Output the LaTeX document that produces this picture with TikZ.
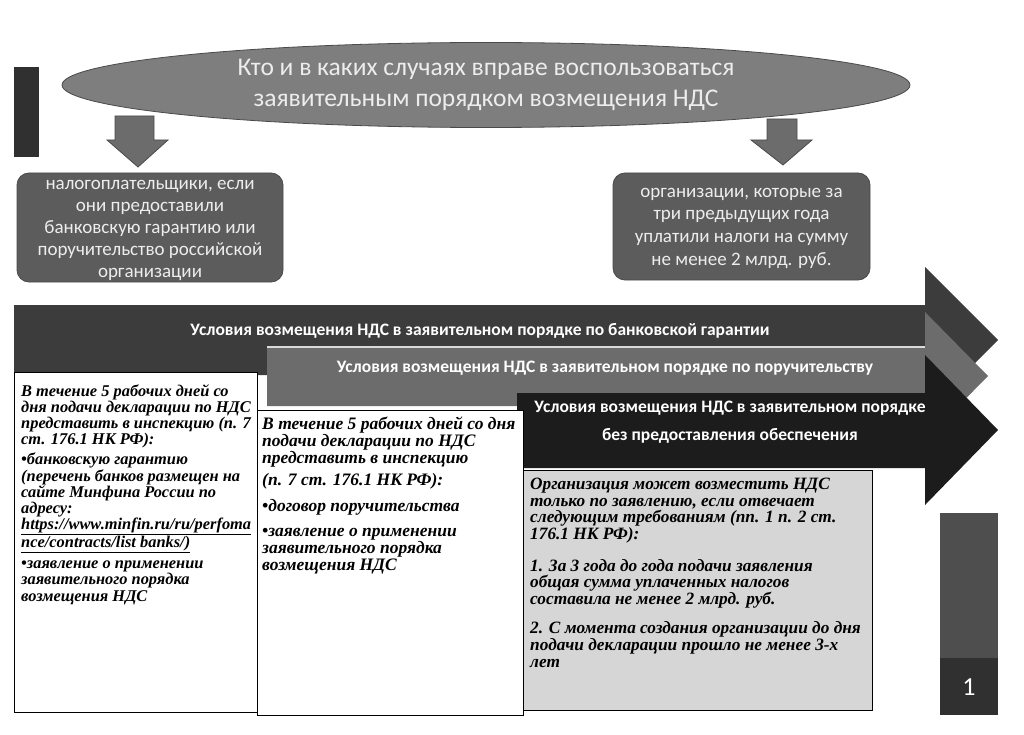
\documentclass[tikz,border=0pt]{standalone}
\usepackage{fontspec}
\setmainfont{Carlito}
\newfontfamily\tnr{Liberation Serif}
\usetikzlibrary{shapes.geometric}
\definecolor{ellfill}{HTML}{7E7E7E}
\definecolor{edgegray}{HTML}{4A4A4A}
\definecolor{boxfill}{HTML}{5C5C5C}
\definecolor{txtlight}{HTML}{EDEDED}
\definecolor{arrowone}{HTML}{3C3C3C}
\definecolor{arrowtwo}{HTML}{6C6C6C}
\definecolor{arrowthree}{HTML}{1C1C1C}
\definecolor{lightbox}{HTML}{D6D6D6}
\definecolor{numtop}{HTML}{4E4E4E}
\definecolor{numbot}{HTML}{303030}
\tikzset{
  rbox/.style={draw=edgegray, fill=boxfill, rounded corners=12pt, line width=0.8pt},
  rtext/.style={text=txtlight, align=center, inner sep=0pt, font=\fontsize{19}{22}\selectfont},
  downarr/.style={draw=edgegray, fill=arrowtwo, line width=0.8pt},
  whitebox/.style={draw=black, line width=0.8pt},
  bodytext/.style={anchor=north west, align=left, inner sep=0pt},
  bartext/.style={text=white, font=\bfseries\fontsize{17.5}{28}\selectfont, align=center}
}
\begin{document}
\begin{tikzpicture}[x=1pt,y=-1pt]
\useasboundingbox (0,0) rectangle (1024,735);
% left bar
\fill[numbot] (14,67) rectangle (39,157);
% title ellipse
\node[ellipse, draw=edgegray, fill=ellfill, line width=0.8pt, minimum width=848pt, minimum height=85pt, inner sep=0pt, text=txtlight, align=center, font=\fontsize{25.5}{31.5}\selectfont] (title) at (486,85) {Кто и в каких случаях вправе воспользоваться\\заявительным порядком возмещения НДС};
% down arrows
\draw[downarr] (115,116) -- (154,116) -- (154,140) -- (168,140) -- (138,167) -- (107,140) -- (115,140) -- cycle;
\draw[downarr] (767,119) -- (797,119) -- (797,140) -- (812,140) -- (783,165) -- (751,140) -- (767,140) -- cycle;
% rounded boxes
\node[rbox, minimum width=266pt, minimum height=109pt, inner sep=0pt] (left) at (150,227.5) {};
\node[rtext] (lefttext) at (150,230) {налогоплательщики, если\\они предоставили\\банковскую гарантию или\\поручительство российской\\организации};
\node[rbox, minimum width=257pt, minimum height=107pt, inner sep=0pt] (right) at (741.5,226.5) {};
\node[rtext, font=\fontsize{19}{22.7}\selectfont] (righttext) at (741.5,228) {организации, которые за\\три предыдущих года\\уплатили налоги на сумму\\не менее 2 млрд. руб.};
% big arrow 1
\fill[arrowone] (14,305) -- (925,305) -- (925,267) -- (998,340) -- (925,413) -- (925,375) -- (14,375) -- cycle;
\node[bartext] (a1) at (480,331) {Условия возмещения НДС в заявительном порядке по банковской гарантии};
% big arrow 2
\fill[arrowtwo] (267,346) -- (925,346) -- (925,312) -- (988,376) -- (925,440) -- (925,406) -- (267,406) -- cycle;
\draw[white!75!arrowtwo, line width=1.5pt] (267,347) -- (925,347);
\node[bartext] (a2) at (605,368) {Условия возмещения НДС в заявительном порядке по поручительству};
% big arrow 3
\fill[arrowthree] (517,393) -- (925,393) -- (925,355) -- (998,430) -- (925,505) -- (925,468) -- (517,468) -- cycle;
\node[bartext] (a3) at (730,422) {Условия возмещения НДС в заявительном порядке\\без предоставления обеспечения};
% box 1
\draw[whitebox, fill=white] (14,372) rectangle (257,712);
\node[bodytext, font=\tnr\bfseries\itshape\fontsize{16.4}{16.2}\selectfont] (t1) at (21,384) {В течение 5 рабочих дней со\\дня подачи декларации по НДС\\представить в инспекцию (п. 7\\ст. 176.1 НК РФ):\\[4pt]
•банковскую гарантию\\(перечень банков размещен на\\сайте Минфина России по\\адресу:\\\underline{https://www.minfin.ru/ru/perfoma}\\\underline{nce/contracts/list banks/)}\\[5pt]
•заявление о применении\\заявительного порядка\\возмещения НДС};
% box 2
\draw[whitebox, fill=white] (257,410) rectangle (523,715);
\node[bodytext, font=\tnr\bfseries\itshape\fontsize{17.5}{16.6}\selectfont] (t2) at (262,417) {В течение 5 рабочих дней со дня\\подачи декларации по НДС\\представить в инспекцию\\[6pt]
(п. 7 ст. 176.1 НК РФ):\\[9pt]
•договор поручительства\\[9pt]
•заявление о применении\\заявительного порядка\\возмещения НДС};
% box 3
\draw[whitebox, fill=lightbox] (523,470) rectangle (872,710);
\node[bodytext, font=\tnr\bfseries\itshape\fontsize{17.3}{16.6}\selectfont] (t3) at (530,478) {Организация может возместить НДС\\только по заявлению, если отвечает\\следующим требованиям (пп. 1 п. 2 ст.\\176.1 НК РФ):\\[15pt]
1. За 3 года до года подачи заявления\\общая сумма уплаченных налогов\\составила не менее 2 млрд. руб.\\[13pt]
2. С момента создания организации до дня\\подачи декларации прошло не менее 3-х\\лет};
% number column
\fill[numtop] (940,513) rectangle (998,658);
\fill[numbot] (940,658) rectangle (998,715);
\node[text=white, font=\fontsize{26}{30}\selectfont] (num) at (969,687) {1};
\end{tikzpicture}
\end{document}
